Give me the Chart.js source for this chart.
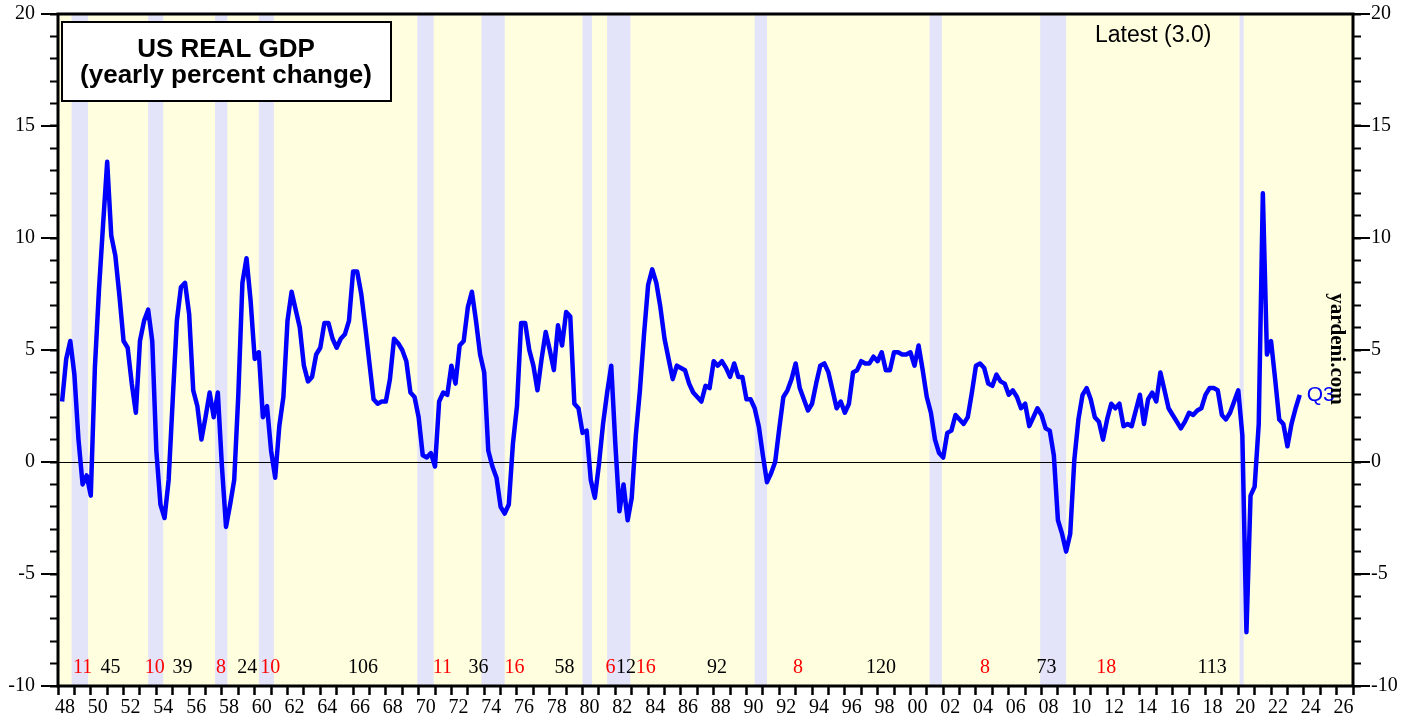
<!DOCTYPE html>
<html>
<head>
<meta charset="utf-8">
<title>US Real GDP</title>
<script src="https://cdn.jsdelivr.net/npm/chart.js@4.4.1/dist/chart.umd.min.js"></script>
<style>
  html, body { margin: 0; padding: 0; background: #fff; }
  canvas { display: block; }
</style>
</head>
<body>
<canvas id="gdpChart" width="1419" height="717"></canvas>
<script>
// US real GDP, % change from a year earlier, quarterly from 1948Q1 to 2023Q3
const firstYear = 1948;
const gdpYoy = [
  2.7, 4.6, 5.4, 3.9,     // 1948
  1.0, -1.0, -0.6, -1.5,  // 1949
  4.2, 7.7, 10.6, 13.4,   // 1950
  10.1, 9.2, 7.4, 5.4,
  5.1, 3.5, 2.2, 5.4,
  6.3, 6.8, 5.4, 0.5,
  -1.9, -2.5, -0.8, 2.8,
  6.3, 7.8, 8.0, 6.6,     // 1955
  3.2, 2.5, 1.0, 2.0,
  3.1, 2.0, 3.1, -0.2,
  -2.9, -1.9, -0.8, 3.0,
  8.0, 9.1, 7.2, 4.6,
  4.9, 2.0, 2.5, 0.5,     // 1960
  -0.7, 1.6, 2.9, 6.3,
  7.6, 6.8, 6.0, 4.3,
  3.6, 3.8, 4.8, 5.1,
  6.2, 6.2, 5.5, 5.1,
  5.5, 5.7, 6.3, 8.5,     // 1965
  8.5, 7.5, 6.0, 4.4,
  2.8, 2.6, 2.7, 2.7,
  3.7, 5.5, 5.3, 5.0,
  4.5, 3.1, 2.9, 2.0,
  0.3, 0.2, 0.4, -0.2,    // 1970
  2.7, 3.1, 3.0, 4.3,
  3.5, 5.2, 5.4, 6.9,
  7.6, 6.3, 4.8, 4.0,
  0.5, -0.2, -0.7, -2.0,
  -2.3, -1.9, 0.8, 2.5,   // 1975
  6.2, 6.2, 5.0, 4.3,
  3.2, 4.6, 5.8, 5.0,
  4.1, 6.1, 5.2, 6.7,
  6.5, 2.6, 2.4, 1.3,
  1.4, -0.8, -1.6, -0.1,  // 1980
  1.7, 3.1, 4.3, 0.8,
  -2.2, -1.0, -2.6, -1.6,
  1.2, 3.2, 5.7, 7.9,
  8.6, 8.0, 6.9, 5.5,
  4.6, 3.7, 4.3, 4.2,     // 1985
  4.1, 3.5, 3.1, 2.9,
  2.7, 3.4, 3.3, 4.5,
  4.3, 4.5, 4.2, 3.8,
  4.4, 3.8, 3.8, 2.8,
  2.8, 2.4, 1.6, 0.3,     // 1990
  -0.9, -0.5, 0.0, 1.5,
  2.9, 3.2, 3.7, 4.4,
  3.3, 2.8, 2.3, 2.6,
  3.5, 4.3, 4.4, 4.0,
  3.2, 2.4, 2.7, 2.2,     // 1995
  2.6, 4.0, 4.1, 4.5,
  4.4, 4.4, 4.7, 4.5,
  4.9, 4.1, 4.1, 4.9,
  4.9, 4.8, 4.8, 4.9,
  4.3, 5.2, 4.1, 2.9,     // 2000
  2.2, 1.0, 0.4, 0.2,
  1.3, 1.4, 2.1, 1.9,
  1.7, 2.0, 3.1, 4.3,
  4.4, 4.2, 3.5, 3.4,
  3.9, 3.6, 3.5, 3.0,     // 2005
  3.2, 2.9, 2.4, 2.6,
  1.6, 2.0, 2.4, 2.1,
  1.5, 1.4, 0.3, -2.6,
  -3.2, -4.0, -3.2, 0.1,
  1.9, 3.0, 3.3, 2.8,     // 2010
  2.0, 1.8, 1.0, 1.9,
  2.6, 2.4, 2.6, 1.6,
  1.7, 1.6, 2.3, 3.0,
  1.7, 2.8, 3.1, 2.7,
  4.0, 3.2, 2.4, 2.1,     // 2015
  1.8, 1.5, 1.8, 2.2,
  2.1, 2.3, 2.4, 3.0,
  3.3, 3.3, 3.2, 2.1,
  1.9, 2.2, 2.7, 3.2,
  1.2, -7.6, -1.5, -1.1,  // 2020
  1.7, 12.0, 4.8, 5.4,
  3.7, 1.9, 1.7, 0.7,
  1.7, 2.4, 3.0           // 2023
];

// recessions (decimal years)
const recessionStart = [1948.83, 1953.5, 1957.58, 1960.25, 1969.92, 1973.83, 1980.0, 1981.5, 1990.5, 2001.17, 2007.92, 2020.08];
const recessionEnd   = [1949.83, 1954.42, 1958.33, 1961.17, 1970.92, 1975.25, 1980.58, 1982.92, 1991.25, 2001.92, 2009.5, 2020.33];

// months in each phase, printed along the bottom
const cycleText = ['11', '45', '10', '39', '8', '24', '10', '106', '11', '36', '16', '58', '6', '12', '16', '92', '8', '120', '8', '73', '18', '113'];
const cyclePos  = [1949.5, 1951.2, 1953.9, 1955.6, 1957.95, 1959.55, 1960.95, 1966.6, 1971.45, 1973.65, 1975.85, 1978.9, 1981.7, 1982.65, 1983.85, 1988.2, 1993.15, 1998.2, 2004.55, 2008.3, 2011.95, 2018.4];
const cycleDown = [true, false, true, false, true, false, true, false, true, false, true, false, true, false, true, false, true, false, true, false, true, false];

const latestQuarter = 'Q3';
const latestValue = 3.0;

const xMin = 1948, xMax = 2027;
const yMin = -10, yMax = 20;

const SERIF = '"Liberation Serif", "Times New Roman", serif';
const SANS = '"Liberation Sans", Arial, sans-serif';

const backdrop = {
  id: 'backdrop',
  beforeDatasetsDraw(chart) {
    const { ctx, chartArea: a, scales: { x, y } } = chart;
    ctx.save();
    ctx.fillStyle = '#ffffe0';
    ctx.fillRect(a.left, a.top, a.width, a.height);

    ctx.fillStyle = '#e3e3fa';
    recessionStart.forEach((s, i) => {
      const x0 = x.getPixelForValue(s);
      const x1 = x.getPixelForValue(recessionEnd[i]);
      ctx.fillRect(x0, a.top, Math.max(x1 - x0, 2), a.height);
    });

    // zero line
    const y0 = Math.round(y.getPixelForValue(0)) + 0.5;
    ctx.strokeStyle = '#000';
    ctx.lineWidth = 1.2;
    ctx.beginPath();
    ctx.moveTo(a.left, y0);
    ctx.lineTo(a.right, y0);
    ctx.stroke();

    ctx.font = '20px ' + SERIF;
    ctx.textAlign = 'center';
    ctx.textBaseline = 'middle';
    cycleText.forEach((t, i) => {
      ctx.fillStyle = cycleDown[i] ? '#ff0000' : '#000';
      ctx.fillText(t, x.getPixelForValue(cyclePos[i]), 668);
    });
    ctx.restore();
  },
  afterDraw(chart) {
    const { ctx, chartArea: a, scales: { x, y } } = chart;
    ctx.save();

    // long ticks at every 5
    ctx.strokeStyle = '#000';
    ctx.lineWidth = 2;
    for (let v = yMin; v <= yMax; v += 5) {
      const py = y.getPixelForValue(v);
      ctx.beginPath();
      ctx.moveTo(a.left - 17, py);
      ctx.lineTo(a.left, py);
      ctx.moveTo(a.right, py);
      ctx.lineTo(a.right + 17, py);
      ctx.stroke();
    }

    // frame
    ctx.lineWidth = 3;
    ctx.strokeRect(a.left, a.top, a.width, a.height);

    // title box
    ctx.fillStyle = '#fff';
    ctx.fillRect(62, 22, 329, 79);
    ctx.lineWidth = 2;
    ctx.strokeRect(62, 22, 329, 79);
    ctx.fillStyle = '#000';
    ctx.font = 'bold 26px ' + SANS;
    ctx.textAlign = 'center';
    ctx.textBaseline = 'alphabetic';
    ctx.fillText('US REAL GDP', 226, 57);
    ctx.fillText('(yearly percent change)', 226, 83);

    ctx.font = '23px ' + SANS;
    ctx.textAlign = 'left';
    ctx.fillText('Latest (' + latestValue.toFixed(1) + ')', 1095, 42);

    // end label
    const last = gdpYoy.length;
    const lx = x.getPixelForValue(firstYear + last / 4);
    const ly = y.getPixelForValue(gdpYoy[last - 1]);
    ctx.fillStyle = '#0000ff';
    ctx.font = '21px ' + SANS;
    ctx.textBaseline = 'middle';
    ctx.fillText(latestQuarter, lx + 7, ly);

    // watermark
    ctx.translate(1336, 349);
    ctx.rotate(Math.PI / 2);
    ctx.fillStyle = '#000';
    ctx.font = 'bold 21px ' + SERIF;
    ctx.textAlign = 'center';
    ctx.fillText('yardeni.com', 0, 0);
    ctx.restore();
  }
};

function yAxis(position, width, pad) {
  return {
    type: 'linear',
    position,
    min: yMin,
    max: yMax,
    afterFit(s) {
      s.width = width;
      s.paddingTop = 0;
      s.paddingBottom = 0;
    },
    border: { display: false },
    grid: { drawOnChartArea: false, tickLength: 8, tickWidth: 2, tickColor: '#000' },
    ticks: {
      stepSize: 1,
      autoSkip: false,
      padding: pad,
      color: '#000',
      font: { family: SERIF, size: 20 },
      callback: v => (v % 5 === 0 ? String(v) : '')
    }
  };
}

new Chart(document.getElementById('gdpChart'), {
  type: 'line',
  data: {
    datasets: [{
      label: 'US real GDP (yoy %)',
      data: gdpYoy.map((v, i) => ({ x: firstYear + (i + 1) / 4, y: v })),
      borderColor: '#0000ff',
      borderWidth: 4.5,
      borderJoinStyle: 'round',
      pointRadius: 0,
      tension: 0,
      fill: false
    }]
  },
  options: {
    responsive: false,
    animation: false,
    devicePixelRatio: 1,
    layout: { padding: { top: 14, left: 0, right: 0, bottom: 0 } },
    plugins: { legend: { display: false }, tooltip: { enabled: false } },
    scales: {
      x: {
        type: 'linear',
        position: 'bottom',
        min: xMin,
        max: xMax,
        afterFit(s) { s.height = 31; },
        border: { display: false },
        grid: { drawOnChartArea: false, tickLength: 9, tickWidth: 2.5, tickColor: '#000' },
        ticks: {
          stepSize: 1,
          autoSkip: false,
          maxRotation: 0,
          minRotation: 0,
          labelOffset: 7,
          padding: 1,
          color: '#000',
          font: { family: SERIF, size: 20 },
          callback: v => (v % 2 === 0 ? String(v % 100).padStart(2, '0') : '')
        }
      },
      y: yAxis('left', 58, 15),
      y2: yAxis('right', 66, 10)
    }
  },
  plugins: [backdrop]
});
</script>
</body>
</html>
